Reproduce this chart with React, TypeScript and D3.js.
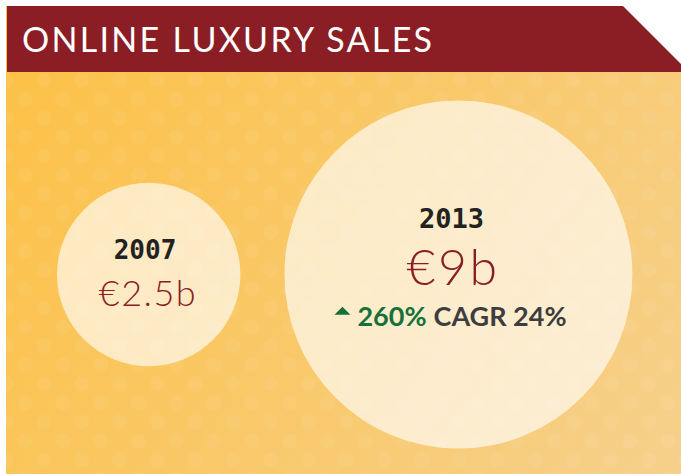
import React from "react";
import * as d3 from "d3";

// chart data
const title = "ONLINE LUXURY SALES";
const years = ["2007", "2013"];
const sales = [2.5, 9]; // € billions
const salesLabels = ["€2.5b", "€9b"];
const growthLabel = "260%";
const cagrLabel = "CAGR 24%";

const W = 681;
const H = 474;
const RED = "#8b1e24";

const App = () => {
  const r = d3.scaleSqrt().domain([0, d3.max(sales)]).range([0, 174]);
  const cy = 274.5;
  const left = 57; // first circle's left edge
  const gap = 44;

  // lay circles side by side from their radii
  const nodes = [];
  let x = left;
  sales.forEach((v, i) => {
    const rad = r(v);
    nodes.push({ year: years[i], label: salesLabels[i], cx: x + rad, r: rad, last: i === sales.length - 1 });
    x += rad * 2 + gap;
  });

  const header = d3.line()([
    [7, 6],
    [623, 6],
    [689, 72],
    [7, 72],
  ]) + "Z";

  return (
    <svg width={W} height={H} style={{ position: "absolute", left: 0, top: 0, display: "block" }}>
      <defs>
        <linearGradient id="bg" gradientUnits="userSpaceOnUse" x1="6" y1="72" x2={W} y2={H}>
          <stop offset="0%" stopColor="#fcc147" />
          <stop offset="100%" stopColor="#f6d08c" />
        </linearGradient>
        <linearGradient id="dotFill" gradientUnits="userSpaceOnUse" x1="0" y1="72" x2={W} y2={H}>
          <stop offset="0%" stopColor="#fff" stopOpacity={0.06} />
          <stop offset="100%" stopColor="#fff" stopOpacity={0.32} />
        </linearGradient>
        <pattern id="dots" patternUnits="userSpaceOnUse" width={37.8} height={38} x={25 - 9.45} y={23 - 9.5}>
          <circle cx={9.45} cy={9.5} r={7.5} fill="url(#dotFill)" />
          <circle cx={28.35} cy={28.5} r={7.5} fill="url(#dotFill)" />
        </pattern>
      </defs>

      <rect x={6} y={72} width={W - 6} height={H - 72} fill="url(#bg)" />
      <rect x={6} y={72} width={W - 6} height={H - 72} fill="url(#dots)" />
      <rect x={6} y={6} width={1} height={66} fill="#fcc147" />

      <path d={header} fill={RED} />
      <text x={22} y={52} fill="#fff" fontFamily="Lato" fontSize={34} fontWeight={400} letterSpacing={2.3}>
        {title}
      </text>

      {nodes.map((n) => {
        const tx = n.cx - n.r * 0.04;
        return (
          <g key={n.year}>
            <circle cx={n.cx} cy={cy} r={n.r} fill="#fff" fillOpacity={0.64} />
            <text
              x={tx}
              y={n.last ? cy - 47 : cy - 16}
              textAnchor="middle"
              fontFamily="DejaVu Sans Mono"
              fontWeight="bold"
              fontSize={n.last ? 27 : 26}
              fill="#222"
            >
              {n.year}
            </text>
            <text
              x={tx + (n.last ? 1.5 : 3)}
              y={n.last ? cy + 10 : cy + 31}
              textAnchor="middle"
              fontFamily="Lato"
              fontWeight={300}
              fontSize={n.last ? 50 : 36}
              letterSpacing={n.last ? 2.5 : 1.5}
              fill={RED}
            >
              {n.label}
            </text>
            {n.last && (
              <g>
                <path d={d3.symbol(d3.symbolTriangle, 60)()} transform={`translate(${tx - 109},${cy + 37.5}) scale(1.36,0.78)`} fill="#16703a" />
                <text x={tx - 94} y={cy + 51} fontFamily="Lato" fontWeight="bold" fontSize={27} fill="#16703a">
                  {growthLabel}
                  <tspan fill="#3d3d3d" dx={7}>{cagrLabel}</tspan>
                </text>
              </g>
            )}
          </g>
        );
      })}
    </svg>
  );
};

export default App;
